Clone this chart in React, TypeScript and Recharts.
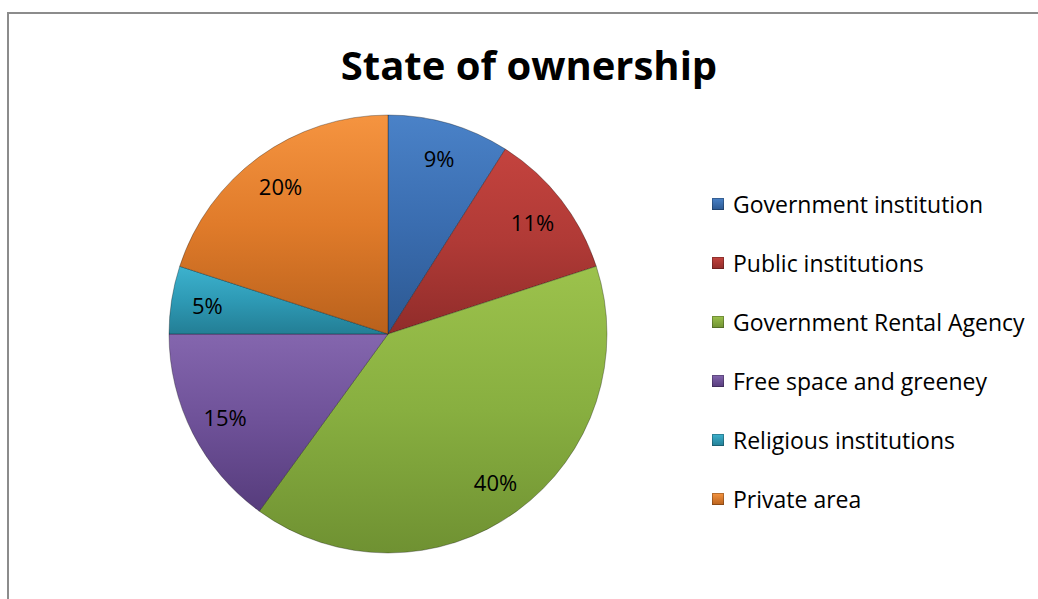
import React from "react";
import { PieChart, Pie, Cell, Legend } from "recharts";

const categories = [
  "Government institution",
  "Public institutions",
  "Government Rental Agency",
  "Free space and greeney",
  "Religious institutions",
  "Private area",
];
const shares = [9, 11, 40, 15, 5, 20];
const topColors = ["#4A82C8", "#C4433E", "#9CC24C", "#8466AE", "#3DB2CE", "#F59440"];
const baseColors = ["#3A6DB0", "#B03A36", "#88AF40", "#6E5198", "#2E9AB5", "#E07B2A"];
const bottomColors = ["#2C5891", "#902C2A", "#6F9132", "#563C7C", "#237E95", "#B9611C"];

const data = categories.map((name, i) => ({ name, value: shares[i] }));

const FONT = "'Open Sans', 'Noto Sans', sans-serif";
const RAD = Math.PI / 180;

const renderLabel = (props: any) => {
  const { cx, cy, midAngle, outerRadius, percent } = props;
  const r = outerRadius * 0.835;
  const x = cx + r * Math.cos(-midAngle * RAD);
  const y = cy + r * Math.sin(-midAngle * RAD);
  return (
    <text
      x={x}
      y={y}
      textAnchor="middle"
      dominantBaseline="central"
      fill="#000"
      fontSize={22}
      fontFamily={FONT}
    >
      {`${Math.round(percent * 100)}%`}
    </text>
  );
};

const LegendContent = () => {
  return (
    <div style={{ fontFamily: FONT }}>
      {categories.map((name, idx) => (
        <div
          key={idx}
          style={{ display: "flex", alignItems: "center", height: 59, fontSize: 23, color: "#000" }}
        >
          <div
            style={{
              width: 12,
              height: 12,
              marginRight: 9,
              flexShrink: 0,
              background: `linear-gradient(to bottom, ${topColors[idx]}, ${bottomColors[idx]})`,
              boxShadow: "inset 0 0 0 1px rgba(0,0,0,0.25)",
            }}
          />
          <span style={{ whiteSpace: "nowrap" }}>{name}</span>
        </div>
      ))}
    </div>
  );
};

export default function App() {
  return (
    <div
      style={{
        position: "fixed",
        left: 0,
        top: 0,
        width: 1038,
        height: 599,
        overflow: "hidden",
        background: "#fff",
      }}
    >
      <div
        style={{
          position: "absolute",
          left: 7,
          top: 12,
          width: 1200,
          height: 800,
          border: "2px solid #8c8c8c",
        }}
      />
      <div
        style={{
          position: "absolute",
          left: 0,
          top: 36,
          width: 1058,
          textAlign: "center",
          fontFamily: FONT,
          fontWeight: 700,
          fontSize: 40,
          lineHeight: "58px",
          color: "#000",
        }}
      >
        State of ownership
      </div>
      <div style={{ position: "absolute", left: 0, top: 0 }}>
        <PieChart width={1038} height={599} margin={{ top: 0, right: 0, bottom: 0, left: 0 }}>
          <defs>
            {categories.map((_, i) => (
              <linearGradient key={i} id={`g${i}`} x1="0" y1="0" x2="0" y2="1">
                <stop offset="0%" stopColor={topColors[i]} />
                <stop offset="50%" stopColor={baseColors[i]} />
                <stop offset="100%" stopColor={bottomColors[i]} />
              </linearGradient>
            ))}
          </defs>
          <Pie
            data={data}
            dataKey="value"
            nameKey="name"
            cx={388}
            cy={334}
            outerRadius={219}
            startAngle={90}
            endAngle={-270}
            label={renderLabel}
            labelLine={false}
            isAnimationActive={false}
            stroke="rgba(0,0,0,0.3)"
            strokeWidth={1}
          >
            {data.map((_, i) => (
              <Cell key={i} fill={`url(#g${i})`} />
            ))}
          </Pie>
          <Legend
            layout="vertical"
            align="right"
            verticalAlign="top"
            content={<LegendContent />}
            wrapperStyle={{ left: 712, top: 174, width: 326 }}
          />
        </PieChart>
      </div>
    </div>
  );
}
